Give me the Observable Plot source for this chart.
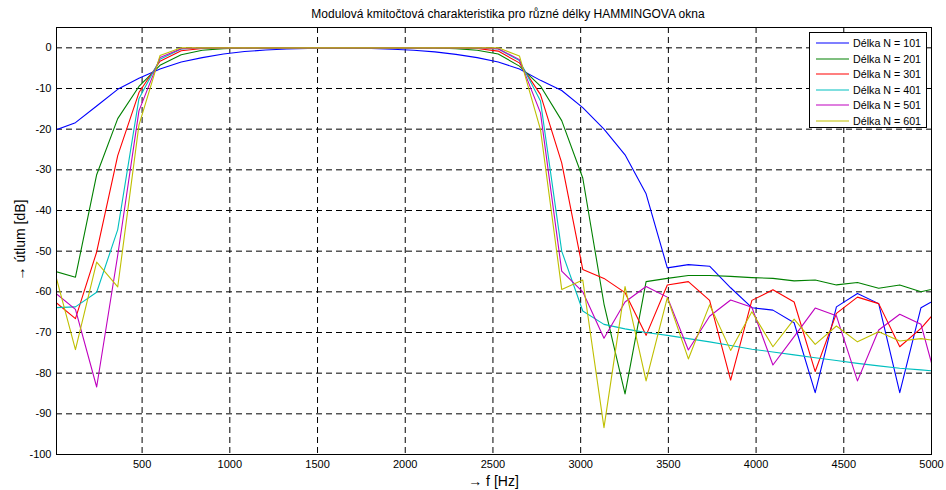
<!DOCTYPE html>
<html>
<head>
<meta charset="utf-8">
<script src="https://cdn.jsdelivr.net/npm/d3@7"></script>
<script src="https://cdn.jsdelivr.net/npm/@observablehq/plot@0.6"></script>
<style>
  html, body { margin: 0; padding: 0; background: #fff; }
  #wrap { position: relative; width: 946px; height: 490px; font-family: "Liberation Sans", Arial, Helvetica, sans-serif; color: #000; overflow: hidden; }
  #chart { position: absolute; left: 0; top: 0; }
  .title { position: absolute; top: 6px; left: 0; width: 1016px; text-align: center; font-size: 12px; line-height: 16px; white-space: nowrap; }
  .xlabel { position: absolute; top: 472px; left: 0; width: 987px; text-align: center; font-size: 14px; line-height: 18px; white-space: nowrap; }
  .ylabel { position: absolute; left: 20px; top: 240px; font-size: 14px; line-height: 18px; white-space: nowrap; transform: translate(-50%, -50%) rotate(-90deg); }
  .legend { position: absolute; left: 809px; top: 32px; width: 116px; height: 94px; background: #fff; border: 1px solid #000; }
  .legend .row { position: absolute; left: 6px; height: 14px; display: flex; align-items: center; font-size: 10.7px; white-space: nowrap; }
  .legend svg { flex: 0 0 auto; margin-right: 4px; }
</style>
</head>
<body>
<div id="wrap">
  <div id="chart"></div>
  <div class="title">Modulová kmitočtová charakteristika pro různé délky HAMMINGOVA okna</div>
  <div class="xlabel">→ f [Hz]</div>
  <div class="ylabel">→ útlum [dB]</div>
  <div class="legend" id="legend"></div>
</div>
<script>
// Frequency grid (Hz)
const freq = [0,120,241,361,482,602,723,843,964,1084,1205,1325,1446,1566,1687,1807,1928,2048,2169,2289,2410,2530,2651,2771,2892,3012,3133,3253,3373,3494,3614,3735,3855,3976,4096,4217,4337,4458,4578,4699,4819,4940,5060];

// Attenuation (dB) for each window length
const n101 = [-20.3,-18.4,-14.3,-10.2,-7.5,-5.2,-3.5,-2.4,-1.5,-0.9,-0.55,-0.3,-0.15,-0.05,-0.05,-0.15,-0.35,-0.6,-1.0,-1.6,-2.4,-3.5,-5.2,-8.0,-10.5,-14.7,-20.0,-26.3,-35.9,-54.1,-53.3,-53.7,-59.0,-63.9,-64.5,-67.6,-84.8,-63.7,-60.4,-62.9,-84.8,-63.9,-61.0];
const n201 = [-54.9,-56.4,-31.2,-17.4,-9.5,-4.3,-1.7,-0.6,-0.2,-0.05,0,0,0,0,0,0,0,0,-0.05,-0.2,-0.6,-1.5,-4.5,-9.4,-17.9,-32.0,-63.0,-85.1,-57.5,-56.7,-56.0,-56.0,-56.2,-56.5,-56.7,-57.3,-57.1,-58.3,-57.7,-59.1,-58.3,-60.0,-58.8];
const n301 = [-62.3,-66.6,-50.2,-26.5,-11.0,-3.3,-0.7,-0.15,0,0,0,0,0,0,0,0,0,0,0,0,-0.15,-0.8,-3.7,-11.5,-28.3,-54.5,-56.7,-60.2,-70.7,-58.3,-57.5,-62.1,-81.7,-62.1,-59.5,-62.5,-79.6,-65.3,-61.3,-62.9,-73.5,-69.0,-63.0];
const n401 = [-63.9,-63.7,-60.1,-44.7,-12.5,-2.8,-0.3,0,0,0,0,0,0,0,0,0,0,0,0,0,0,-0.3,-3.1,-13.1,-50.0,-64.7,-68.0,-69.1,-70.0,-70.7,-71.5,-72.3,-73.2,-74.1,-74.8,-75.5,-76.2,-76.9,-77.6,-78.2,-78.8,-79.2,-79.6];
const n501 = [-60.1,-64.3,-83.4,-51.0,-15.5,-2.4,-0.2,0,0,0,0,0,0,0,0,0,0,0,0,0,0,-0.2,-2.9,-16.0,-54.9,-60.0,-71.4,-62.5,-58.7,-61.3,-74.3,-66.0,-62.0,-63.8,-78.0,-71.0,-64.0,-65.9,-81.9,-69.4,-65.5,-68.0,-87.0];
const n601 = [-54.8,-74.2,-52.7,-58.8,-19.0,-1.9,0,0,0,0,0,0,0,0,0,0,0,0,0,0,0,0,-2.0,-20.1,-59.4,-57.1,-93.4,-58.7,-81.9,-61.4,-76.5,-63.2,-74.4,-64.9,-73.5,-66.7,-72.9,-68.4,-72.3,-69.8,-72.1,-71.5,-72.2];

const seriesNames = ["Délka N = 101","Délka N = 201","Délka N = 301","Délka N = 401","Délka N = 501","Délka N = 601"];
const seriesColors = ["#0000ff","#008000","#ff0000","#00bfbf","#bf00bf","#bfbf00"];
const seriesValues = [n101, n201, n301, n401, n501, n601];

const xTicks = [500,1000,1500,2000,2500,3000,3500,4000,4500,5000];
const yTicks = [0,-10,-20,-30,-40,-50,-60,-70,-80,-90,-100];

const data = seriesValues.flatMap((vals, s) => vals.map((v, i) => ({f: freq[i], db: v, name: seriesNames[s]})));

const fmt = d => String(d);
const chart = Plot.plot({
  width: 946,
  height: 490,
  marginLeft: 56,
  marginRight: 15,
  marginTop: 27,
  marginBottom: 36,
  style: {fontFamily: '"Liberation Sans", Arial, Helvetica, sans-serif', fontSize: "11px", color: "#000", background: "#fff", overflow: "visible"},
  x: {domain: [12, 5000]},
  y: {domain: [-100, 5]},
  color: {domain: seriesNames, range: seriesColors},
  marks: [
    Plot.gridX(xTicks.filter(t => t < 5000), {stroke: "#000", strokeOpacity: 1, strokeDasharray: "6,4", strokeWidth: 1}),
    Plot.gridY(yTicks.filter(t => t > -100), {stroke: "#000", strokeOpacity: 1, strokeDasharray: "6,4", strokeWidth: 1}),
    Plot.line(data, {x: "f", y: "db", z: "name", stroke: "name", strokeWidth: 1.1, clip: true}),
    Plot.frame({stroke: "#000", strokeWidth: 1}),
    Plot.axisX(xTicks, {tickSize: 0, tickPadding: 6, tickFormat: fmt, label: null}),
    Plot.axisY(yTicks, {tickSize: 0, tickPadding: 5, tickFormat: fmt, label: null})
  ]
});
document.getElementById("chart").appendChild(chart);

// Legend
const legend = document.getElementById("legend");
const NS = "http://www.w3.org/2000/svg";
seriesNames.forEach((name, i) => {
  const row = document.createElement("div");
  row.className = "row";
  row.style.top = (3 + i * 15.6) + "px";
  const sw = document.createElementNS(NS, "svg");
  sw.setAttribute("width", "33");
  sw.setAttribute("height", "4");
  const ln = document.createElementNS(NS, "line");
  ln.setAttribute("x1", "0"); ln.setAttribute("x2", "33");
  ln.setAttribute("y1", "2"); ln.setAttribute("y2", "2");
  ln.setAttribute("stroke", seriesColors[i]);
  ln.setAttribute("stroke-width", "1.2");
  sw.appendChild(ln);
  const tx = document.createElement("span");
  tx.textContent = name;
  row.appendChild(sw);
  row.appendChild(tx);
  legend.appendChild(row);
});
</script>
</body>
</html>
